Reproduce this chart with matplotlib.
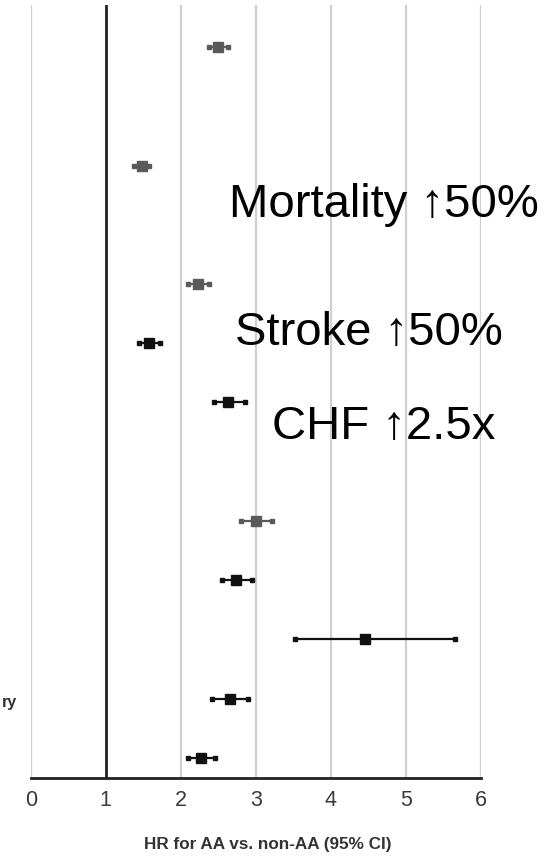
import matplotlib
matplotlib.use("Agg")
import matplotlib.pyplot as plt

# data (slot index from top; empty slots are spacer rows)
slots  = [0, 2, 4, 5, 6, 8, 9, 10, 11, 12]
hr     = [2.50, 1.48, 2.23, 1.57, 2.63, 3.00, 2.74, 4.46, 2.65, 2.27]
lo     = [2.38, 1.38, 2.10, 1.44, 2.44, 2.80, 2.55, 3.52, 2.42, 2.10]
hi     = [2.63, 1.58, 2.37, 1.72, 2.86, 3.22, 2.95, 5.66, 2.90, 2.46]
gray   = [True, True, True, False, False, True, False, False, False, False]
xticks = [0, 1, 2, 3, 4, 5, 6]
notes  = ["Mortality \u219150%", "Stroke \u219150%", "CHF \u21912.5x"]
xlabel = "HR for AA vs. non-AA (95% CI)"

FAM = ["Liberation Sans", "DejaVu Sans"]

fig = plt.figure(figsize=(5.46, 8.62), dpi=100)
top_px, bot_px = 6, 779
ax = fig.add_axes([30.7/546, 1-bot_px/862, (481-30.7)/546, (bot_px-top_px)/862])
ax.set_xlim(0, 6)
ax.set_ylim(12.34, -0.71)

for x in xticks:
    if x == 1:
        ax.axvline(x, color="#222222", lw=2.0, zorder=1)
    else:
        ax.axvline(x, color="#cfcfcf", lw=1.6, zorder=1)

for s, h, l, u, g in zip(slots, hr, lo, hi, gray):
    c = "#5a5a5a" if g else "#111111"
    ax.plot([l, u], [s, s], color=c, lw=1.6, zorder=3)
    ax.plot([l, u], [s, s], ls="none", marker="s", ms=3.5, color=c, zorder=3)
    ax.plot([h], [s], ls="none", marker="s", ms=7, color=c, zorder=4)

for sp in ["top", "right", "left"]:
    ax.spines[sp].set_visible(False)
ax.spines["bottom"].set_color("#222222")
ax.spines["bottom"].set_linewidth(2.0)
ax.set_yticks([])
ax.set_xticks(xticks)
ax.set_xticklabels([str(x) for x in xticks], fontsize=15.5, color="#3a3a3a", family=FAM)
ax.tick_params(axis="x", length=0, pad=8)

fig.text(268/546, 1-845/862, xlabel, ha="center", va="center", fontsize=12.3,
         fontweight="bold", color="#333333", family=FAM)

fig.text(17/546, 1-703/862, "ry", ha="right", va="center", fontsize=11.5,
         fontweight="bold", color="#333333", family=FAM)

note_pos = [(384, 205), (369, 333), (384, 427)]
for t, (px, py) in zip(notes, note_pos):
    fig.text(px/546, 1-py/862, t, ha="center", va="center", fontsize=34,
             color="black", family=FAM)

fig.savefig("out.png", dpi=100)
